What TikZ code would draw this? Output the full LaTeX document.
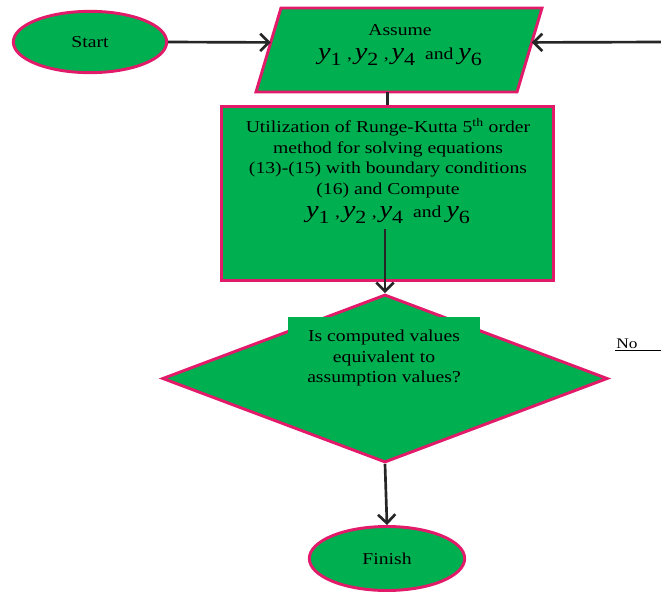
\documentclass[tikz,border=0pt]{standalone}
\usepackage{fontspec}
\setmainfont[FakeStretch=1.18]{Liberation Serif}
\usetikzlibrary{shapes.geometric,arrows.meta,calc}
\definecolor{boxgreen}{RGB}{0,176,80}
\definecolor{rimpink}{RGB}{226,26,106}
\newcommand{\YSUB}[1]{{\fontsize{18}{18}\selectfont\itshape y}\raisebox{-4.5pt}{\fontsize{14}{14}\selectfont #1}}
\newcommand{\YVARS}{\YSUB{1}\,\,,\,\YSUB{2}\,\,,\,\YSUB{4}\ \ and\ \YSUB{6}}

\begin{document}
\begin{tikzpicture}[x=0.75pt,y=-0.75pt,
    font=\fontsize{12.5}{15.5}\selectfont,
    flowbox/.style={draw=rimpink,line width=2.2pt,fill=boxgreen,inner sep=0pt},
    flowline/.style={line width=2pt,black!85},
    flowarrow/.style={flowline,-{Straight Barb[length=6.5pt,width=13pt,line width=2pt]}}]
    \useasboundingbox (0,0) rectangle (661,592);

    \node[flowbox,ellipse,minimum width=115pt,minimum height=46pt] (start) at (90,42) {Start};

    % parallelogram for the assumed values
    \coordinate (asBL) at (256,92);
    \coordinate (asTL) at (281,8);
    \coordinate (asTR) at (542,8);
    \coordinate (asBR) at (517,92);
    \draw[flowbox,line join=miter] (asBL) -- (asTL) -- (asTR) -- (asBR) -- cycle;
    \node[align=center] (assume) at (400,45) {Assume\\[2pt] \YVARS};

    \node[flowbox,rectangle,minimum width=249pt,minimum height=130.5pt] (box) at (387.5,193.5) {};
    \node[anchor=north,align=center] (boxtext) at (388,114)
        {Utilization of Runge-Kutta 5\textsuperscript{th} order\\
         method for solving equations\\
         (13)-(15) with boundary conditions\\
         (16) and Compute\\[2pt]
         \YVARS};

    \node[flowbox,diamond,minimum width=334pt,minimum height=126pt,inner sep=2pt] (check) at (385,378.5) {\strut};
    \node[fill=boxgreen,minimum width=144pt,minimum height=61.5pt,align=center] (question) at (384,358)
        {Is computed values\\ equivalent to\\ assumption values?};

    \node[flowbox,ellipse,minimum width=116.5pt,minimum height=48pt] (finish) at (387,558.5) {Finish};

    \node[font=\fontsize{11}{13}\selectfont,inner sep=1pt] (no) at (627,344) {No};
    \coordinate (noend) at (661,351);
    \coordinate (loopin) at (661,42);
    \coordinate (assumeL) at ($(asBL)!0.59!(asTL)$);
    \coordinate (assumeR) at ($(asBR)!0.59!(asTR)$);

    \draw[flowarrow] (start.east) -- (assumeL);
    \draw[flowarrow] (loopin) -- (assumeR);
    \draw[flowline] (box.north) -- (box.north |- asBL);
    \draw[flowarrow] (check.north |- boxtext.south) -- (check.north);
    \draw[flowarrow] (check.south) -- (finish.north);
    \draw[line width=0.8pt] (no.south west) -- (no.south west -| noend);
\end{tikzpicture}
\end{document}
